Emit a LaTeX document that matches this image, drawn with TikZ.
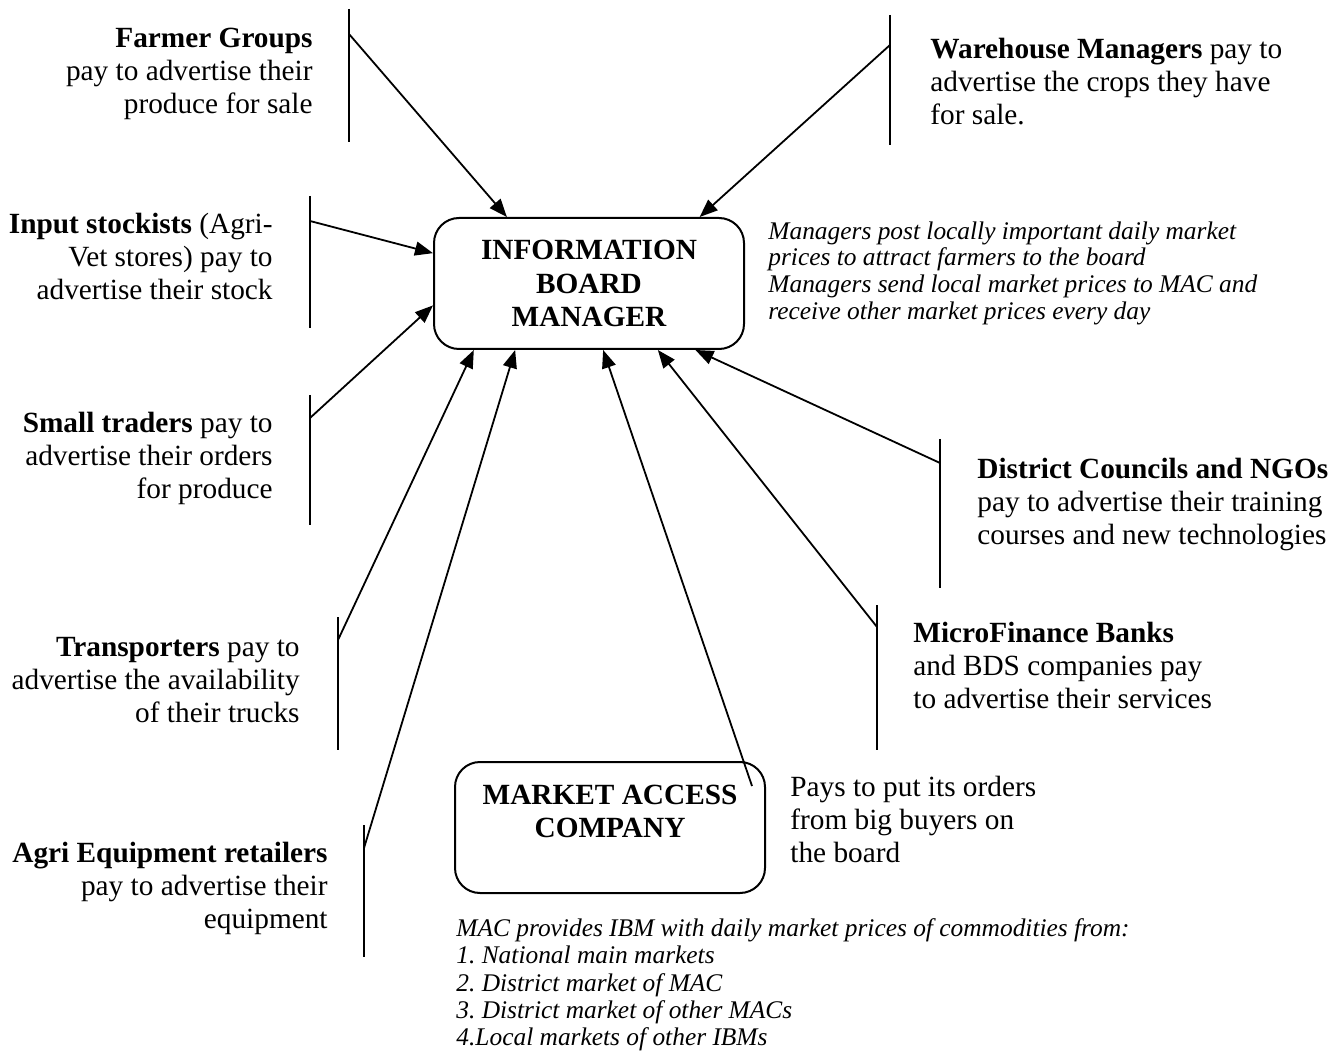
\documentclass[tikz,border=0pt]{standalone}
\usepackage{fontspec}
\setmainfont{Liberation Serif}
\usetikzlibrary{arrows.meta,calc}
\begin{document}
\frenchspacing
\begin{tikzpicture}[x=0.5pt,y=-0.5pt,
  txt/.style={inner sep=0pt, font=\fontsize{14.65pt}{16.5pt}\selectfont},
  rtxt/.style={txt, align=right, anchor=north east},
  ltxt/.style={txt, align=left, anchor=north west},
  note/.style={inner sep=0pt, align=left, anchor=north west, font=\fontsize{12.7pt}{13.4pt}\selectfont\itshape},
  box/.style={draw, line width=1pt, rounded corners=12.5pt, minimum width=155pt, minimum height=65.5pt, align=center, inner sep=0pt, font=\fontsize{14.65pt}{16.75pt}\selectfont\bfseries},
  bar/.style={line width=0.9pt},
  arr/.style={line width=0.9pt, -{Triangle[length=9pt,width=7pt]}},
]
\useasboundingbox (0,0) rectangle (1338,1063);

\node[box] (ibm) at (589,283.5) {INFORMATION\\BOARD\\MANAGER};
\node[box, text depth=16pt] (mac) at (610,827.5) {MARKET ACCESS\\COMPANY};

\node[rtxt] (farmer) at (313,28) {\textbf{Farmer Groups}\\pay to advertise their\\produce for sale};
\node[ltxt] (ware) at (930,38) {\textbf{Warehouse Managers} pay to\\advertise the crops they have\\for sale.};
\node[rtxt] (input) at (273,213) {\textbf{Input stockists} (Agri-\\Vet stores) pay to\\advertise their stock};
\node[rtxt] (small) at (273,412) {\textbf{Small traders} pay to\\advertise their orders\\for produce};
\node[rtxt] (trans) at (300,637) {\textbf{Transporters} pay to\\advertise the availability\\of their trucks};
\node[rtxt] (agri) at (328,842) {\textbf{Agri Equipment retailers}\\pay to advertise their\\equipment};
\node[ltxt] (dist) at (977,458) {\textbf{District Councils and NGOs}\\pay to advertise their training\\courses and new technologies};
\node[ltxt] (micro) at (913,622) {\textbf{MicroFinance Banks}\\and BDS companies pay\\to advertise their services};
\node[ltxt] (pays) at (790,776) {Pays to put its orders\\from big buyers on\\the board};
\node[note] (ibmnote) at (768,221) {Managers post locally important daily market\\prices to attract farmers to the board\\Managers send local market prices to MAC and\\receive other market prices every day};
\node[note, font=\fontsize{12.7pt}{13.7pt}\selectfont\itshape] (macnote) at (456,918) {MAC provides IBM with daily market prices of commodities from:\\1. National main markets\\2. District market of MAC\\3. District market of other MACs\\4.Local markets of other IBMs};

\foreach \n/\x/\t/\b/\s/\a in {farm/349/9/142/34/141.4, ware/890/15/145/45/31.2, inp/310/196/328/221/169.2, sml/310/395/525/418/188.6, trn/338/617/750/640/210.3, agr/364/825/957/848/222.3, mic/877/605/750/627/316.5, dst/940/439/588/463/328.8}{
  \coordinate (\n T) at (\x,\t);
  \coordinate (\n B) at (\x,\b);
  \coordinate (\n S) at (\x,\s);
  \draw[bar] (\n T) -- (\n B);
  \draw[arr] (\n S) -- (ibm.\a);
}
\coordinate (macS) at (752,786);
\draw[arr] (macS) -- (ibm.282.1);
\end{tikzpicture}
\end{document}
